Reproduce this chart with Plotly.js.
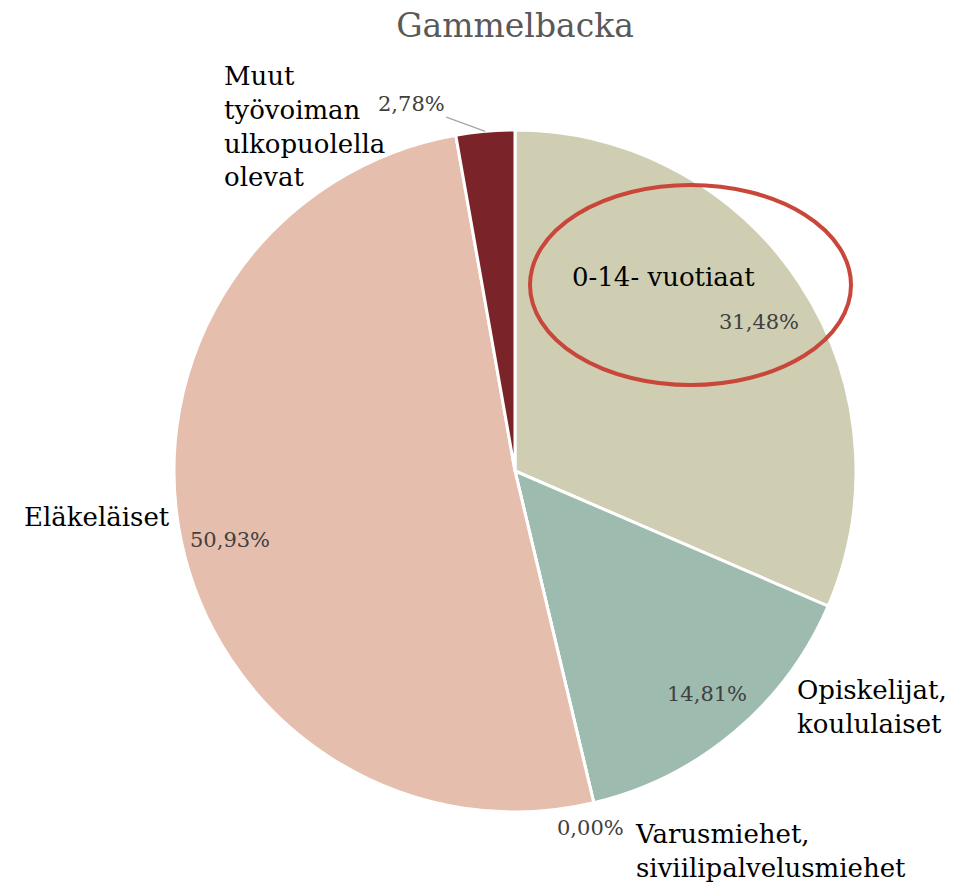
<!DOCTYPE html>
<html>
<head>
<meta charset="utf-8">
<script src="https://cdn.plot.ly/plotly-3.0.1.min.js"></script>
<style>html,body{margin:0;padding:0;background:#fff;}#chart{width:956px;height:887px;}</style>
</head>
<body>
<div id="chart"></div>
<script>
// ---- data ----
const categories = ["0-14- vuotiaat", "Opiskelijat, koululaiset", "Varusmiehet, siviilipalvelusmiehet", "Eläkeläiset", "Muut työvoiman ulkopuolella olevat"];
const labelLines = ["0-14- vuotiaat", "Opiskelijat,<br>koululaiset", "Varusmiehet,<br>siviilipalvelusmiehet", "Eläkeläiset", "Muut<br>työvoiman<br>ulkopuolella<br>olevat"];
const shares = [31.48, 14.81, 0.00, 50.93, 2.78];
const sliceColors = ["#CFCEB3", "#9DBBAE", "#A5A5A5", "#E5BEAD", "#7A2328"];
const chartTitle = "Gammelbacka";

// ---- layout constants ----
const W = 956, H = 887;
const cx = 515, cy = 471, R = 341;
const FONT = "DejaVu Serif, Liberation Serif, serif";

const fmt = v => v.toFixed(2).replace('.', ',') + '%';
const px2x = p => p / W;
const py2y = p => 1 - p / H;

const total = shares.reduce((a, b) => a + b, 0);
let cum = 0;
const mids = shares.map(v => { const m = (cum + v / 2) / total * 2 * Math.PI; cum += v; return m; });
const pt = (ang, r) => [cx + r * Math.sin(ang), cy - r * Math.cos(ang)];

const pctShift = [{dx: -2, dy: -13}, {dx: 2, dy: 3}, {dx: 0, dy: 0}, {dx: 4, dy: -9}, {dx: 0, dy: 0}];
const annotations = [];
// percentage labels
shares.forEach((v, i) => {
  const frac = v / total;
  if (frac > 0.1) {
    const [x, y] = pt(mids[i], 0.865 * R);
    annotations.push({xref: 'paper', yref: 'paper', x: px2x(x), y: py2y(y), text: fmt(v), showarrow: false,
      xshift: pctShift[i].dx, yshift: pctShift[i].dy,
      font: {family: FONT, size: 21, color: '#404040'}, xanchor: 'center', yanchor: 'middle'});
  }
});
// small slices outside
{
  const [x, y] = pt(mids[2], R);
  annotations.push({xref: 'paper', yref: 'paper', x: px2x(x), y: py2y(y), text: fmt(shares[2]), showarrow: false,
    font: {family: FONT, size: 21, color: '#404040'}, xanchor: 'center', yanchor: 'middle', xshift: -3, yshift: -25});
}
{
  const [x, y] = pt(mids[4], R);
  annotations.push({xref: 'paper', yref: 'paper', x: px2x(x), y: py2y(y), text: fmt(shares[4]), showarrow: true,
    arrowhead: 0, arrowwidth: 1.3, arrowcolor: '#A6A6A6', ax: -74, ay: -27, standoff: 0,
    font: {family: FONT, size: 21, color: '#404040'}, xanchor: 'center', yanchor: 'middle'});
}
// category labels
const catPos = [
  {x: 663, y: 277, xa: 'center'},
  {x: 795, y: 707, xa: 'left'},
  {x: 633, y: 851, xa: 'left'},
  {x: 22, y: 517, xa: 'left'},
  {x: 222, y: 126, xa: 'left'}
];
labelLines.forEach((t, i) => {
  annotations.push({xref: 'paper', yref: 'paper', x: px2x(catPos[i].x), y: py2y(catPos[i].y), text: t, showarrow: false,
    align: 'left', xanchor: catPos[i].xa, yanchor: 'middle', font: {family: FONT, size: 26, color: '#000000'}});
});

const data = [{
  type: 'pie',
  values: shares,
  labels: categories,
  marker: {colors: sliceColors, line: {color: '#FFFFFF', width: 3}},
  sort: false,
  direction: 'clockwise',
  rotation: 0,
  textinfo: 'none',
  hoverinfo: 'none',
  domain: {x: [px2x(cx - R), px2x(cx + R)], y: [py2y(cy + R), py2y(cy - R)]},
  showlegend: false
}];

const layout = {
  width: W, height: H,
  margin: {l: 0, r: 0, t: 0, b: 0},
  paper_bgcolor: '#FFFFFF',
  showlegend: false,
  title: {text: chartTitle, font: {family: FONT, size: 33, color: '#595959'}, x: px2x(515), xanchor: 'center', y: py2y(25), yanchor: 'middle', xref: 'paper', yref: 'paper'},
  annotations: annotations,
  shapes: [{type: 'circle', xref: 'paper', yref: 'paper', x0: px2x(530), x1: px2x(851), y0: py2y(385), y1: py2y(185),
    line: {color: '#C9473A', width: 4}}]
};

Plotly.newPlot('chart', data, layout, {displayModeBar: false, staticPlot: true});
</script>
</body>
</html>
